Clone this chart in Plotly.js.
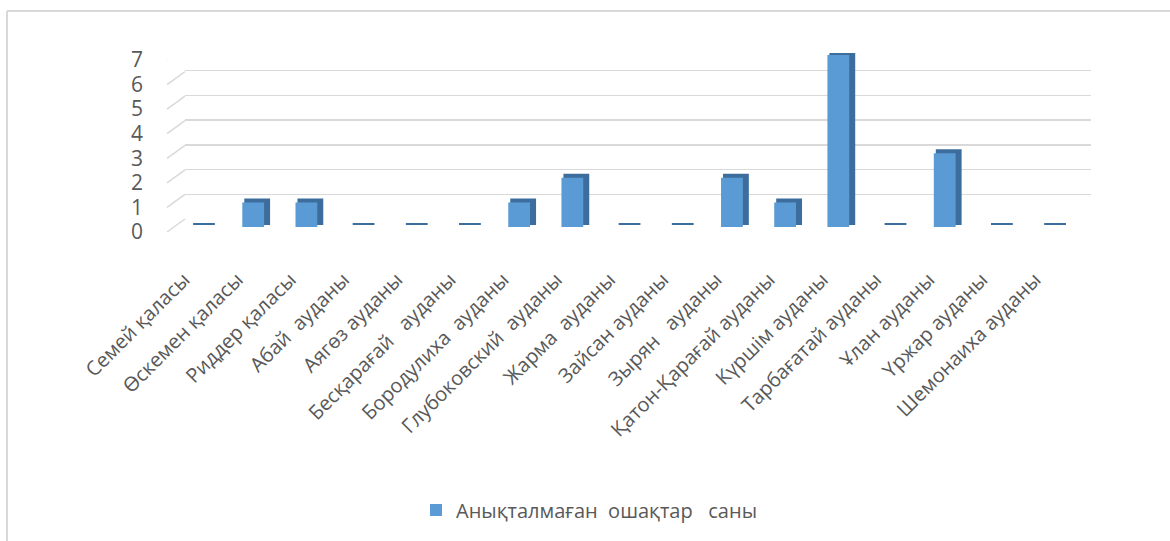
<!DOCTYPE html>
<html>
<head>
<meta charset="utf-8">
<script src="https://cdn.plot.ly/plotly-3.0.1.min.js"></script>
<style>html,body{margin:0;padding:0;background:#fff;}#chart{width:1170px;height:541px;}</style>
</head>
<body>
<div id="chart"></div>
<script>
const categories = [
  'Семей қаласы',
  'Өскемен қаласы',
  'Риддер қаласы',
  'Абай\u00A0 ауданы',
  'Аягөз ауданы',
  'Бесқарағай\u00A0\u00A0 ауданы',
  'Бородулиха\u00A0 ауданы',
  'Глубоковский\u00A0 ауданы',
  'Жарма\u00A0 ауданы',
  'Зайсан ауданы',
  'Зырян\u00A0\u00A0 ауданы',
  'Қатон-Қарағай ауданы',
  'Күршім ауданы',
  'Тарбағатай ауданы',
  'Ұлан ауданы',
  'Үржар ауданы',
  'Шемонаиха ауданы'
];
const values = [0, 1, 1, 0, 0, 0, 1, 2, 0, 0, 2, 1, 7, 0, 3, 0, 0];
const yTicks = [0, 1, 2, 3, 4, 5, 6, 7];
const seriesName = 'Анықталмаған\u00A0 ошақтар\u00A0\u00A0 саны';

const textColor = '#595959';
const font = '"Open Sans", "Noto Sans", sans-serif';

// pixel geometry helpers (layout only)
const L = 185, R = 79, W = 1170, H = 541;
const plotW = W - L - R;
const px2paperX = p => (p - L) / plotW;
const yDomain = (y0px, y7px) => [(H - y0px) / H, (H - y7px) / H];

const sideTrace = {
  type: 'bar', x: categories, y: values,
  xaxis: 'x', yaxis: 'y3',
  width: 0.41, offset: -0.13,
  marker: {color: '#3D6D9C', line: {color: '#3D6D9C', width: 4}},
  showlegend: false, hoverinfo: 'skip'
};
const frontTrace = {
  type: 'bar', x: categories, y: values, name: seriesName,
  xaxis: 'x', yaxis: 'y4',
  width: 0.41, offset: -0.205,
  marker: {color: '#5B9BD5', line: {width: 0}},
  showlegend: true
};

const unitPx = (232 - 60) / 7;
const shapes = yTicks.map(v => ({
  type: 'line', xref: 'paper', yref: 'y',
  x0: px2paperX(167), x1: px2paperX(185),
  y0: v, y1: v + 13 / unitPx,
  line: {color: '#D9D9D9', width: 1.5}
}));
shapes.push({type: 'line', xref: 'paper', yref: 'paper',
  x0: px2paperX(7), x1: px2paperX(1172), y0: (H - 11) / H, y1: (H - 11) / H,
  line: {color: '#D9D9D9', width: 2}});
shapes.push({type: 'line', xref: 'paper', yref: 'paper',
  x0: px2paperX(7), x1: px2paperX(7), y0: -0.01, y1: (H - 11) / H,
  line: {color: '#D9D9D9', width: 2}});

const hiddenY = {range: [0, 7], showgrid: false, zeroline: false, showticklabels: false,
  ticks: '', showline: false, anchor: 'x', fixedrange: true};

const layout = {
  width: W, height: H,
  margin: {l: L, r: R, t: 0, b: 0},
  paper_bgcolor: '#ffffff', plot_bgcolor: 'rgba(0,0,0,0)',
  font: {family: font, color: textColor},
  barmode: 'overlay',
  xaxis: {
    type: 'category', range: [-0.282, 16.75], anchor: 'y',
    showgrid: false, zeroline: false, showline: false, ticks: '',
    tickangle: -45, tickfont: {size: 20, color: textColor, family: font},
    ticklabelshift: -16, ticklabelstandoff: 31, automargin: false
  },
  yaxis: Object.assign({}, hiddenY, {
    domain: yDomain(232, 60), showticklabels: true, tickvals: yTicks,
    tickfont: {size: 21, color: textColor, family: font},
    ticklabelstandoff: 41, automargin: false
  }),
  yaxis2: Object.assign({}, hiddenY, {
    domain: yDomain(219, 46), showgrid: true, gridcolor: '#D9D9D9', gridwidth: 1.5,
    tickvals: yTicks
  }),
  yaxis3: Object.assign({}, hiddenY, {domain: yDomain(225, 53)}),
  yaxis4: Object.assign({}, hiddenY, {domain: yDomain(227, 55)}),
  legend: {
    orientation: 'h', x: px2paperX(589), xanchor: 'center', y: (H - 510) / H, yanchor: 'middle',
    font: {size: 20, color: textColor, family: font}, bgcolor: 'rgba(0,0,0,0)'
  },
  shapes: shapes,
  showlegend: true
};

// invisible helper traces that activate the label and grid subplots
const gridTrace = {type: 'scatter', x: [categories[0]], y: [0], xaxis: 'x', yaxis: 'y2',
  mode: 'markers', marker: {opacity: 0}, showlegend: false, hoverinfo: 'skip'};
const labelTrace = {type: 'scatter', x: [categories[0]], y: [0], xaxis: 'x', yaxis: 'y',
  mode: 'markers', marker: {opacity: 0}, showlegend: false, hoverinfo: 'skip'};

Plotly.newPlot('chart', [labelTrace, gridTrace, sideTrace, frontTrace], layout, {displayModeBar: false, staticPlot: true});
</script>
</body>
</html>
